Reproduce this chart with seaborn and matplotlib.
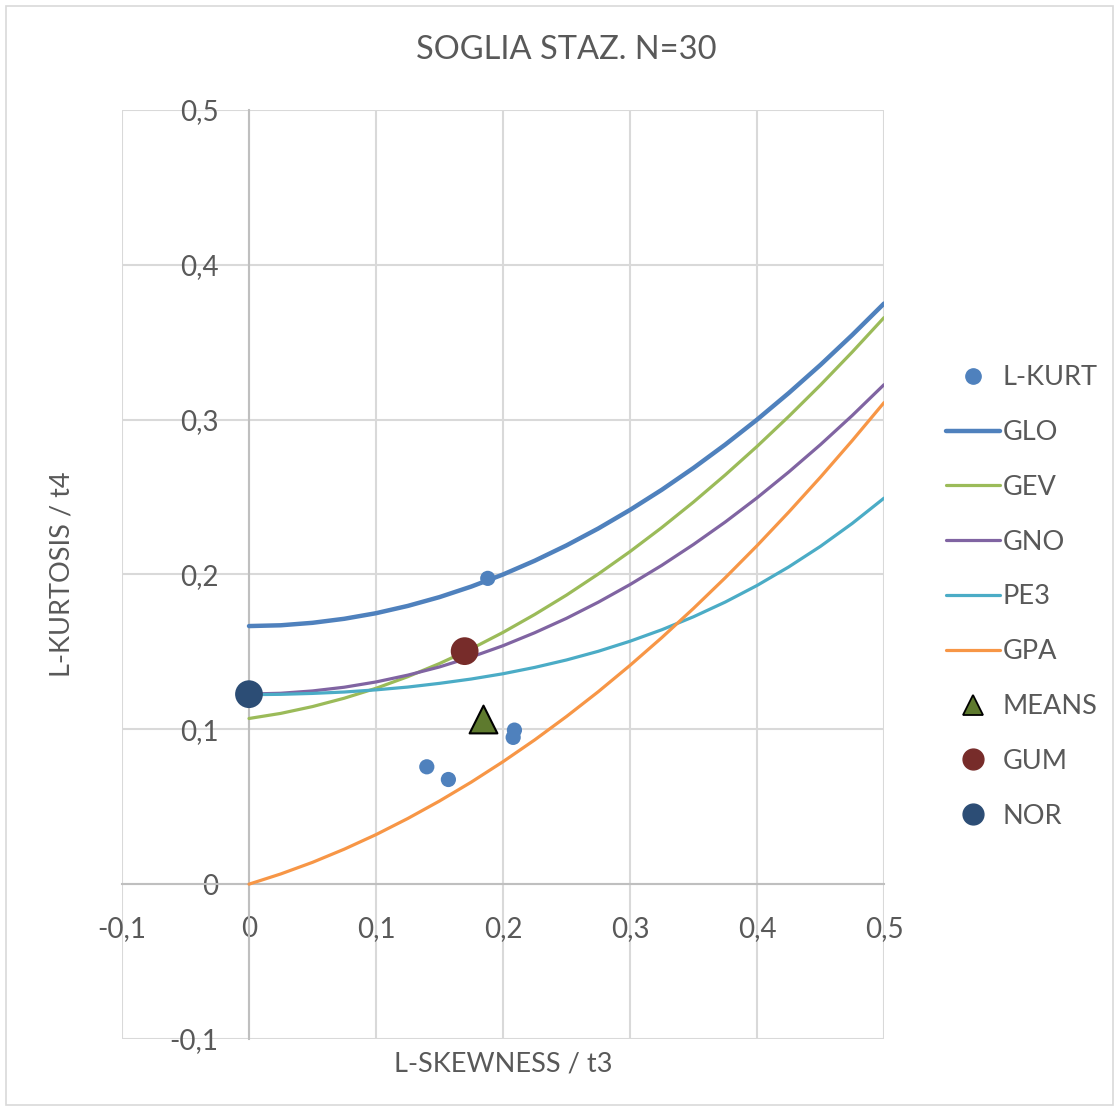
import matplotlib
matplotlib.use("Agg")
import matplotlib.pyplot as plt
from matplotlib.lines import Line2D
from matplotlib.patches import Rectangle
from matplotlib.ticker import FuncFormatter, MultipleLocator
import numpy as np
import pandas as pd
import seaborn as sns

# L-skewness grid shared by the theoretical curves
t3_grid = [0.000, 0.025, 0.050, 0.075, 0.100, 0.125, 0.150, 0.175, 0.200, 0.225,
           0.250, 0.275, 0.300, 0.325, 0.350, 0.375, 0.400, 0.425, 0.450, 0.475, 0.500]

# Theoretical L-kurtosis curves
glo_t4 = [0.1667, 0.1672, 0.1688, 0.1714, 0.1750, 0.1797, 0.1854, 0.1922, 0.2000, 0.2089,
          0.2188, 0.2297, 0.2417, 0.2547, 0.2688, 0.2839, 0.3000, 0.3172, 0.3354, 0.3547, 0.3750]
gev_t4 = [0.1070, 0.1103, 0.1147, 0.1201, 0.1265, 0.1340, 0.1425, 0.1520, 0.1626, 0.1742,
          0.1867, 0.2003, 0.2148, 0.2303, 0.2468, 0.2643, 0.2827, 0.3021, 0.3224, 0.3437, 0.3659]
gno_t4 = [0.1228, 0.1233, 0.1248, 0.1272, 0.1306, 0.1350, 0.1403, 0.1467, 0.1540, 0.1624,
          0.1717, 0.1821, 0.1935, 0.2059, 0.2194, 0.2339, 0.2495, 0.2662, 0.2839, 0.3027, 0.3226]
pe3_t4 = [0.1224, 0.1226, 0.1232, 0.1241, 0.1255, 0.1273, 0.1297, 0.1325, 0.1359, 0.1400,
          0.1448, 0.1504, 0.1569, 0.1643, 0.1727, 0.1822, 0.1929, 0.2049, 0.2182, 0.2330, 0.2493]
gpa_t4 = [0.0000, 0.0066, 0.0141, 0.0226, 0.0320, 0.0424, 0.0537, 0.0659, 0.0791, 0.0932,
          0.1083, 0.1243, 0.1413, 0.1592, 0.1781, 0.1979, 0.2186, 0.2403, 0.2629, 0.2865, 0.3110]

# Sample L-moment ratios of the stations
lkurt_t3 = [0.188, 0.209, 0.208, 0.140, 0.157]
lkurt_t4 = [0.1975, 0.0995, 0.0948, 0.0758, 0.0676]

# Regional means and reference distributions
means_t3, means_t4 = [0.1845], [0.1068]
gum_t3, gum_t4 = [0.1698], [0.1505]
nor_t3, nor_t4 = [0.0], [0.1227]

TEXT = "#595959"
GRID = "#D9D9D9"

sns.set_theme(style="white")
plt.rcParams["font.family"] = ["Lato", "DejaVu Sans"]
plt.rcParams["text.color"] = TEXT
plt.rcParams["axes.labelcolor"] = TEXT
plt.rcParams["xtick.color"] = TEXT
plt.rcParams["ytick.color"] = TEXT

W, H = 1119, 1111
fig = plt.figure(figsize=(W / 100, H / 100), dpi=100)
ax = fig.add_axes([122 / W, 1 - 1039 / H, (884 - 122) / W, (1039 - 110) / H])

curves = pd.DataFrame({
    "t3": t3_grid * 5,
    "t4": glo_t4 + gev_t4 + gno_t4 + pe3_t4 + gpa_t4,
    "dist": ["GLO"] * 21 + ["GEV"] * 21 + ["GNO"] * 21 + ["PE3"] * 21 + ["GPA"] * 21,
})
styles = {
    "GLO": ("#4F81BD", 3.2),
    "GEV": ("#9BBB59", 2.3),
    "GNO": ("#8064A2", 2.3),
    "PE3": ("#4BACC6", 2.3),
    "GPA": ("#F79646", 2.3),
}
for name, (col, lw) in styles.items():
    sub = curves[curves["dist"] == name]
    sns.lineplot(data=sub, x="t3", y="t4", color=col, linewidth=lw, ax=ax,
                 legend=False, zorder=3, sort=False)

sns.scatterplot(x=lkurt_t3, y=lkurt_t4, color="#4F81BD", s=120, edgecolor="none",
                ax=ax, zorder=5, legend=False)
sns.scatterplot(x=means_t3, y=means_t4, color="#5E7A2E", marker="^", s=400,
                edgecolor="black", linewidth=1.5, ax=ax, zorder=5, legend=False)
sns.scatterplot(x=gum_t3, y=gum_t4, color="#772C2A", s=400, edgecolor="none",
                ax=ax, zorder=5, legend=False)
sns.scatterplot(x=nor_t3, y=nor_t4, color="#2C4D75", s=400, edgecolor="none",
                ax=ax, zorder=6, legend=False, clip_on=False)

ax.set_xlim(-0.1, 0.5)
ax.set_ylim(-0.1, 0.5)
ax.xaxis.set_major_locator(MultipleLocator(0.1))
ax.yaxis.set_major_locator(MultipleLocator(0.1))

def comma(v, pos):
    if abs(v) < 1e-9:
        return "0"
    return f"{v:.1f}".replace(".", ",")

ax.xaxis.set_major_formatter(FuncFormatter(comma))
ax.yaxis.set_major_formatter(FuncFormatter(comma))

ax.grid(True, color=GRID, linewidth=1.5, zorder=0)
ax.set_axisbelow(True)
for side in ("top", "right"):
    ax.spines[side].set_visible(False)
ax.spines["left"].set_position(("data", 0))
ax.spines["bottom"].set_position(("data", 0))
for side in ("left", "bottom"):
    ax.spines[side].set_color("#BFBFBF")
    ax.spines[side].set_linewidth(1.5)
    ax.spines[side].set_zorder(1)
ax.tick_params(axis="both", length=0, labelsize=20)
ax.tick_params(axis="y", pad=22)
ax.tick_params(axis="x", pad=23)

ax.set_xlabel("L-SKEWNESS / t3", fontsize=19.5)
ax.xaxis.set_label_coords(0.5, -0.027)
ax.xaxis.label.set_va("center")
ax.set_ylabel("L-KURTOSIS / t4", fontsize=19.5)
ax.yaxis.set_label_coords((62 - 122) / (884 - 122), 0.5)
ax.yaxis.label.set_va("center")

fig.text(566 / W, 1 - 50 / H, "SOGLIA STAZ. N=30", ha="center", va="center",
         fontsize=23.5, color=TEXT)

handles = [
    Line2D([], [], linestyle="none", marker="o", markersize=11, color="#4F81BD"),
    Line2D([], [], color="#4F81BD", linewidth=3.2),
    Line2D([], [], color="#9BBB59", linewidth=2.3),
    Line2D([], [], color="#8064A2", linewidth=2.3),
    Line2D([], [], color="#4BACC6", linewidth=2.3),
    Line2D([], [], color="#F79646", linewidth=2.3),
    Line2D([], [], linestyle="none", marker="^", markersize=15, color="#5E7A2E",
           markeredgecolor="black", markeredgewidth=1.3),
    Line2D([], [], linestyle="none", marker="o", markersize=15, color="#772C2A"),
    Line2D([], [], linestyle="none", marker="o", markersize=15, color="#2C4D75"),
]
labels = ["L-KURT", "GLO", "GEV", "GNO", "PE3", "GPA", "MEANS", "GUM", "NOR"]
fig.legend(handles, labels, loc="center left", bbox_to_anchor=(932 / W, 1 - 597 / H),
           frameon=False, fontsize=19.5, handlelength=2.0, handletextpad=0.1,
           labelspacing=1.10, borderpad=0, labelcolor=TEXT)

fig.add_artist(Rectangle((6 / W, 6 / H), (W - 12) / W, (H - 12) / H,
                         transform=fig.transFigure, fill=False,
                         edgecolor=GRID, linewidth=1.2))

fig.savefig("out.png", dpi=100)
